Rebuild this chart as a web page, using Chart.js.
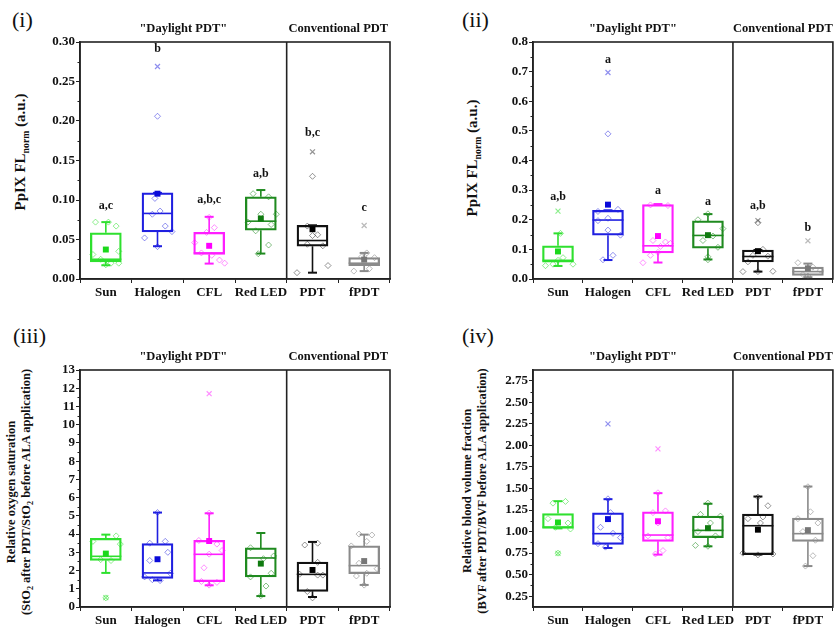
<!DOCTYPE html>
<html>
<head>
<meta charset="utf-8">
<script src="https://cdn.jsdelivr.net/npm/chart.js@4.4.1/dist/chart.umd.min.js"></script>
<style>
  html, body { margin: 0; padding: 0; width: 838px; height: 629px; overflow: hidden; background: #fff; }
  canvas, .lbl, .ytitle { position: absolute; }
  .lbl { font: 22px "Liberation Serif", serif; color: #111; }
  .ytitle { font-family: "Liberation Serif", serif; font-weight: bold; color: #111; white-space: nowrap;
            text-align: center; transform: translate(-50%, -50%) rotate(-90deg); }
  .ytitle sub { font-size: 65%; }
</style>
</head>
<body>
<div class="lbl" style="left:12px;top:7px">(i)</div>
<div class="lbl" style="left:462px;top:7px">(ii)</div>
<div class="lbl" style="left:13px;top:323px">(iii)</div>
<div class="lbl" style="left:462px;top:323px">(iv)</div>

<div class="ytitle" style="left:21px;top:152px;font-size:15px">PpIX FL<sub>norm</sub> (a.u.)</div>
<div class="ytitle" style="left:473px;top:158px;font-size:15px">PpIX FL<sub>norm</sub> (a.u.)</div>
<div class="ytitle" style="left:21px;top:492px;font-size:12.5px;line-height:15px">Relative oxygen saturation<br>(StO<sub>2</sub> after PDT/StO<sub>2</sub> before ALA application)</div>
<div class="ytitle" style="left:475px;top:491px;font-size:12.5px;line-height:15px">Relative blood volume fraction<br>(BVF after PDT/BVF before ALA application)</div>

<canvas id="c1" width="420" height="310" style="left:0;top:0"></canvas>
<canvas id="c2" width="430" height="310" style="left:420px;top:0"></canvas>
<canvas id="c3" width="420" height="330" style="left:0;top:310px"></canvas>
<canvas id="c4" width="430" height="330" style="left:420px;top:310px"></canvas>

<script>
// categories
const groups = ['Sun', 'Halogen', 'CFL', 'Red LED', 'PDT', 'fPDT'];

// (i) PpIX fluorescence
const p1Min  = [0.0174, 0.0415, 0.0195, 0.0322, 0.008, 0.010];
const p1Q1   = [0.0216, 0.0596, 0.031, 0.0618, 0.0415, 0.017];
const p1Med  = [0.025, 0.083, 0.033, 0.0732, 0.0487, 0.020];
const p1Q3   = [0.0584, 0.109, 0.059, 0.104, 0.068, 0.027];
const p1Max  = [0.072, 0.109, 0.0787, 0.1126, 0.068, 0.033];
const p1Mean = [0.0373, 0.108, 0.042, 0.0766, 0.063, 0.0246];
const p1Out  = [null, 0.269, null, null, 0.161, 0.0677];
const p1Letters = ['a,c', 'b', 'a,b,c', 'a,b', 'b,c', 'c'];
const p1LetterY = [0.092, 0.291, 0.1, 0.133, 0.185, 0.09];
const p1Ticks = [0, 0.05, 0.10, 0.15, 0.20, 0.25, 0.30];
const p1Pts = [
  [[-0.2, 0.072], [0.05, 0.072], [0.2, 0.067], [-0.25, 0.031], [0.25, 0.035], [-0.1, 0.025], [0.1, 0.02], [0.25, 0.02], [0, 0.018]],
  [[-0.25, 0.052], [-0.1, 0.082], [-0.05, 0.102], [0.05, 0.086], [0.15, 0.067], [0.28, 0.06], [0, 0.041], [0, 0.206]],
  [[-0.28, 0.046], [-0.05, 0.059], [0.1, 0.065], [-0.15, 0.033], [0.05, 0.03], [0.2, 0.024], [0.3, 0.02], [0, 0.078]],
  [[-0.15, 0.108], [0.15, 0.104], [-0.25, 0.072], [0, 0.082], [0.2, 0.069], [0.3, 0.082], [-0.1, 0.061], [0.15, 0.043], [-0.05, 0.032]],
  [[-0.3, 0.008], [-0.1, 0.067], [-0.1, 0.044], [0, 0.055], [0.1, 0.056], [0.2, 0.042], [0.3, 0.017], [0, 0.130]],
  [[-0.2, 0.010], [-0.05, 0.028], [0.05, 0.033], [0.2, 0.027], [0.1, 0.013]]
];

// (ii) PpIX fluorescence
const p2Min  = [0.044, 0.064, 0.0556, 0.066, 0.025, 0.006];
const p2Q1   = [0.057, 0.148, 0.088, 0.104, 0.058, 0.012];
const p2Med  = [0.063, 0.199, 0.112, 0.147, 0.076, 0.025];
const p2Q3   = [0.112, 0.232, 0.251, 0.196, 0.098, 0.040];
const p2Max  = [0.154, 0.232, 0.253, 0.219, 0.098, 0.052];
const p2Mean = [0.093, 0.251, 0.145, 0.148, 0.094, 0.036];
const p2Out  = [0.229, 0.697, null, null, 0.197, 0.129];
const p2Letters = ['a,b', 'a', 'a', 'a', 'a,b', 'b'];
const p2LetterY = [0.277, 0.739, 0.297, 0.26, 0.246, 0.172];
const p2Ticks = [0, 0.1, 0.2, 0.3, 0.4, 0.5, 0.6, 0.7, 0.8];
const p2Pts = [
  [[-0.25, 0.045], [-0.1, 0.05], [0.1, 0.072], [0.3, 0.05], [0, 0.063], [0.05, 0.154]],
  [[-0.2, 0.228], [0.2, 0.235], [-0.2, 0.197], [0, 0.205], [0, 0.165], [0.25, 0.148], [-0.1, 0.065], [0.1, 0.08], [0, 0.49]],
  [[-0.3, 0.055], [-0.15, 0.08], [0, 0.09], [-0.1, 0.13], [0.15, 0.125], [0.25, 0.12], [0.05, 0.11], [-0.15, 0.25], [0.2, 0.248]],
  [[-0.2, 0.2], [0.3, 0.17], [0, 0.22], [0.1, 0.145], [-0.1, 0.13], [0.2, 0.107], [0, 0.075], [0, 0.065]],
  [[-0.3, 0.025], [0.3, 0.026], [0, 0.025], [-0.2, 0.058], [-0.1, 0.08], [0.2, 0.077], [0.1, 0.1], [0, 0.19]],
  [[-0.2, 0.055], [0.1, 0.04], [0.25, 0.03], [-0.1, 0.015], [0, 0.01]]
];

// (iii) relative oxygen saturation
const p3Min  = [1.87, 1.46, 1.19, 0.6, 0.55, 1.21];
const p3Q1   = [2.56, 1.57, 1.39, 1.65, 0.86, 1.83];
const p3Med  = [2.78, 1.87, 2.89, 2.69, 1.79, 2.27];
const p3Q3   = [3.77, 3.48, 3.66, 3.24, 2.47, 3.35];
const p3Max  = [3.97, 5.18, 5.14, 4.06, 3.57, 3.97];
const p3Mean = [2.93, 2.62, 3.62, 2.38, 2.03, 2.52];
const p3Out  = [0.51, null, 11.7, null, null, null];
const p3Ticks = [0, 1, 2, 3, 4, 5, 6, 7, 8, 9, 10, 11, 12, 13];
const p3Pts = [
  [[-0.25, 3.6], [0.2, 3.9], [0.28, 3.45], [-0.1, 2.6], [0.1, 2.55], [0, 0.5]],
  [[-0.15, 3.5], [0.15, 3.6], [0.2, 3.0], [-0.15, 2.55], [0.25, 1.85], [-0.25, 1.65], [-0.1, 1.5], [0.05, 1.45], [0, 5.18]],
  [[-0.2, 3.65], [0.15, 3.45], [0.25, 3.1], [0, 2.9], [-0.1, 2.15], [-0.15, 1.4], [0.15, 1.35], [0, 1.2], [0, 5.15]],
  [[-0.2, 3.25], [0.25, 2.8], [0.05, 2.65], [0.2, 1.85], [-0.2, 1.65], [0.1, 1.15], [0, 0.62]],
  [[-0.15, 3.4], [0.1, 3.5], [0.1, 2.45], [-0.25, 1.8], [0.1, 1.75], [0.2, 1.75], [-0.1, 0.85], [0, 0.5]],
  [[-0.1, 4.0], [0.15, 3.95], [0.05, 3.6], [-0.25, 3.35], [-0.1, 2.4], [0.25, 2.1], [0.05, 1.85], [-0.15, 1.7], [0, 1.2]]
];

// (iv) relative blood volume fraction
const p4Min  = [1.037, 0.81, 0.733, 0.829, 0.733, 0.6];
const p4Q1   = [1.037, 0.852, 0.887, 0.93, 0.733, 0.887];
const p4Med  = [1.052, 0.976, 0.96, 1.014, 1.068, 0.976];
const p4Q3   = [1.21, 1.219, 1.23, 1.18, 1.203, 1.156];
const p4Max  = [1.353, 1.376, 1.446, 1.323, 1.407, 1.523];
const p4Mean = [1.106, 1.145, 1.12, 1.04, 1.022, 1.017];
const p4Out  = [0.748, 2.25, 1.96, null, null, null];
const p4Ticks = [0.25, 0.5, 0.75, 1.0, 1.25, 1.5, 1.75, 2.0, 2.25, 2.5, 2.75];
const p4Pts = [
  [[-0.1, 1.33], [0.15, 1.35], [-0.2, 1.15], [0.2, 1.1], [-0.05, 1.05], [0.25, 1.03], [0, 0.75]],
  [[0.05, 1.22], [-0.15, 1.05], [0.1, 0.98], [0.25, 0.93], [-0.2, 0.86], [-0.05, 0.82], [0, 1.38]],
  [[-0.1, 1.22], [0.15, 1.24], [0, 1.1], [-0.2, 0.95], [0.2, 0.93], [0.1, 0.78], [-0.05, 0.74], [0, 1.45]],
  [[-0.15, 1.2], [0.25, 1.18], [0.05, 1.1], [-0.2, 1.0], [0.15, 0.95], [-0.25, 0.84], [0, 0.83], [0, 1.33]],
  [[-0.2, 1.15], [0.1, 1.17], [0.2, 1.3], [0.05, 1.1], [-0.3, 0.75], [0, 0.73], [0.3, 0.74], [0, 1.4]],
  [[-0.2, 1.15], [0.05, 1.23], [0.2, 1.1], [-0.1, 1.0], [0.15, 0.9], [0.1, 0.72], [-0.05, 0.6], [0, 1.52]]
];

const lineColors  = ['#2ee02e', '#1f1fe0', '#ff1eff', '#1f8a1f', '#111111', '#8a8a8a'];
const meanColors  = ['#1cd81c', '#0a0ad8', '#ff00ff', '#0f7a0f', '#000000', '#777777'];
const pointColors = ['rgba(46,224,46,0.55)', 'rgba(31,31,224,0.5)', 'rgba(255,30,255,0.5)',
                     'rgba(31,138,31,0.55)', 'rgba(40,40,40,0.5)', 'rgba(138,138,138,0.6)'];

Chart.defaults.font.family = '"Liberation Serif", "Times New Roman", serif';
Chart.defaults.color = '#111';

const decor = {
  id: 'decor',
  afterDraw(chart, args, o) {
    const { ctx, chartArea: a, scales: { x, y } } = chart;
    ctx.save();
    // minor ticks on y
    ctx.strokeStyle = '#222';
    ctx.lineWidth = 1;
    const t = y.ticks.map(k => k.value);
    for (let i = 0; i < t.length - 1; i++) {
      const py = Math.round(y.getPixelForValue((t[i] + t[i + 1]) / 2)) + 0.5;
      ctx.beginPath(); ctx.moveTo(a.left - 2.5, py); ctx.lineTo(a.left, py); ctx.stroke();
    }
    // frame and divider
    ctx.lineWidth = 1.6;
    ctx.strokeRect(a.left, a.top, a.right - a.left, a.bottom - a.top);
    const xd = x.getPixelForValue(4.5);
    ctx.beginPath(); ctx.moveTo(xd, a.top); ctx.lineTo(xd, a.bottom); ctx.stroke();
    // group titles
    ctx.fillStyle = '#111';
    ctx.textAlign = 'center';
    ctx.textBaseline = 'alphabetic';
    ctx.font = 'bold 12.5px "Liberation Serif"';
    ctx.fillText('"Daylight PDT"', x.getPixelForValue(2.5), a.top - 10);
    ctx.fillText('Conventional PDT', x.getPixelForValue(5.5), a.top - 10);
    // significance letters
    if (o.letters) {
      ctx.font = 'bold 12px "Liberation Serif"';
      ctx.textBaseline = 'middle';
      o.letters.forEach((s, i) => ctx.fillText(s, x.getPixelForValue(i + 1), y.getPixelForValue(o.letterY[i])));
    }
    ctx.restore();
  }
};

function panel(id, s, yMin, yMax, ticks, digits, pad, letters, letterY) {
  const datasets = [];
  // raw data points
  groups.forEach((g, i) => {
    datasets.push({
      type: 'line', showLine: false, order: 6,
      data: s.pts[i].map(p => ({ x: i + 1 + p[0], y: p[1] })),
      pointStyle: 'rectRot', pointRadius: 3, pointBorderWidth: 1,
      pointBackgroundColor: 'rgba(255,255,255,0)', pointBorderColor: pointColors[i]
    });
  });
  // boxes
  datasets.push({
    type: 'bar', order: 5,
    data: groups.map((g, i) => ({ x: i + 1, y: [s.q1[i], s.q3[i]] })),
    backgroundColor: 'rgba(255,255,255,0)', borderColor: lineColors,
    borderWidth: 1.6, borderSkipped: false, barThickness: 31
  });
  // whiskers
  groups.forEach((g, i) => {
    const x = i + 1;
    datasets.push({
      type: 'line', order: 4, spanGaps: false, pointRadius: 0,
      borderColor: lineColors[i], borderWidth: 1.6,
      data: [{ x, y: s.q3[i] }, { x, y: s.max[i] }, { x, y: null }, { x, y: s.q1[i] }, { x, y: s.min[i] }]
    });
  });
  // whisker caps
  const capColors = [];
  const caps = [];
  groups.forEach((g, i) => {
    caps.push({ x: i + 1, y: s.min[i] }, { x: i + 1, y: s.max[i] });
    capColors.push(lineColors[i], lineColors[i]);
  });
  datasets.push({
    type: 'line', showLine: false, order: 3, data: caps,
    pointStyle: 'line', pointRadius: 4.5, pointBorderWidth: 2, pointBorderColor: capColors
  });
  // medians
  datasets.push({
    type: 'line', showLine: false, order: 2,
    data: groups.map((g, i) => ({ x: i + 1, y: s.med[i] })),
    pointStyle: 'line', pointRadius: 15.5, pointBorderWidth: 1.6, pointBorderColor: lineColors
  });
  // outliers (x marks)
  const outs = [], outColors = [];
  s.out.forEach((v, i) => { if (v !== null) { outs.push({ x: i + 1, y: v }); outColors.push(pointColors[i]); } });
  datasets.push({
    type: 'line', showLine: false, order: 1, data: outs,
    pointStyle: 'crossRot', pointRadius: 3.5, pointBorderWidth: 1.2, pointBorderColor: outColors
  });
  // means
  datasets.push({
    type: 'line', showLine: false, order: 0,
    data: groups.map((g, i) => ({ x: i + 1, y: s.mean[i] })),
    pointStyle: 'rect', pointRadius: 4.2, pointBorderWidth: 0,
    pointBackgroundColor: meanColors, pointBorderColor: meanColors
  });

  return new Chart(document.getElementById(id), {
    type: 'bar',
    data: { datasets },
    plugins: [decor],
    options: {
      responsive: false, animation: false, events: [],
      layout: { padding: pad },
      plugins: {
        legend: { display: false }, tooltip: { enabled: false },
        decor: { letters, letterY }
      },
      scales: {
        x: {
          type: 'linear', min: 0.5, max: 6.5, offset: false,
          afterFit: sc => { sc.height = 25; },
          afterBuildTicks: sc => { sc.ticks = groups.map((g, i) => ({ value: i + 1 })); },
          grid: { drawOnChartArea: false, tickLength: 4, color: '#222' },
          border: { color: '#222', width: 1.6 },
          ticks: { padding: 2, maxRotation: 0, autoSkip: false, font: { size: 13, weight: 'bold' },
                   callback: v => groups[v - 1] }
        },
        y: {
          min: yMin, max: yMax,
          afterFit: sc => { sc.width = 40; },
          afterBuildTicks: sc => { sc.ticks = ticks.map(v => ({ value: v })); },
          grid: { drawOnChartArea: false, tickLength: 4, color: '#222' },
          border: { color: '#222', width: 1.6 },
          ticks: { padding: 1, autoSkip: false, font: { size: 13, weight: 'bold' },
                   callback: v => Number(v).toFixed(digits) }
        }
      }
    }
  });
}

panel('c1', { min: p1Min, q1: p1Q1, med: p1Med, q3: p1Q3, max: p1Max, mean: p1Mean, out: p1Out, pts: p1Pts },
      0, 0.30, p1Ticks, 2, { left: 40, right: 30, top: 42, bottom: 6 }, p1Letters, p1LetterY);
panel('c2', { min: p2Min, q1: p2Q1, med: p2Med, q3: p2Q3, max: p2Max, mean: p2Mean, out: p2Out, pts: p2Pts },
      0, 0.8, p2Ticks, 1, { left: 73, right: 7, top: 42, bottom: 6 }, p2Letters, p2LetterY);
panel('c3', { min: p3Min, q1: p3Q1, med: p3Med, q3: p3Q3, max: p3Max, mean: p3Mean, out: p3Out, pts: p3Pts },
      0, 13, p3Ticks, 0, { left: 40, right: 30, top: 60, bottom: 8 }, null, null);
panel('c4', { min: p4Min, q1: p4Q1, med: p4Med, q3: p4Q3, max: p4Max, mean: p4Mean, out: p4Out, pts: p4Pts },
      0.125, 2.875, p4Ticks, 2, { left: 73, right: 7, top: 60, bottom: 8 }, null, null);
</script>
</body>
</html>
